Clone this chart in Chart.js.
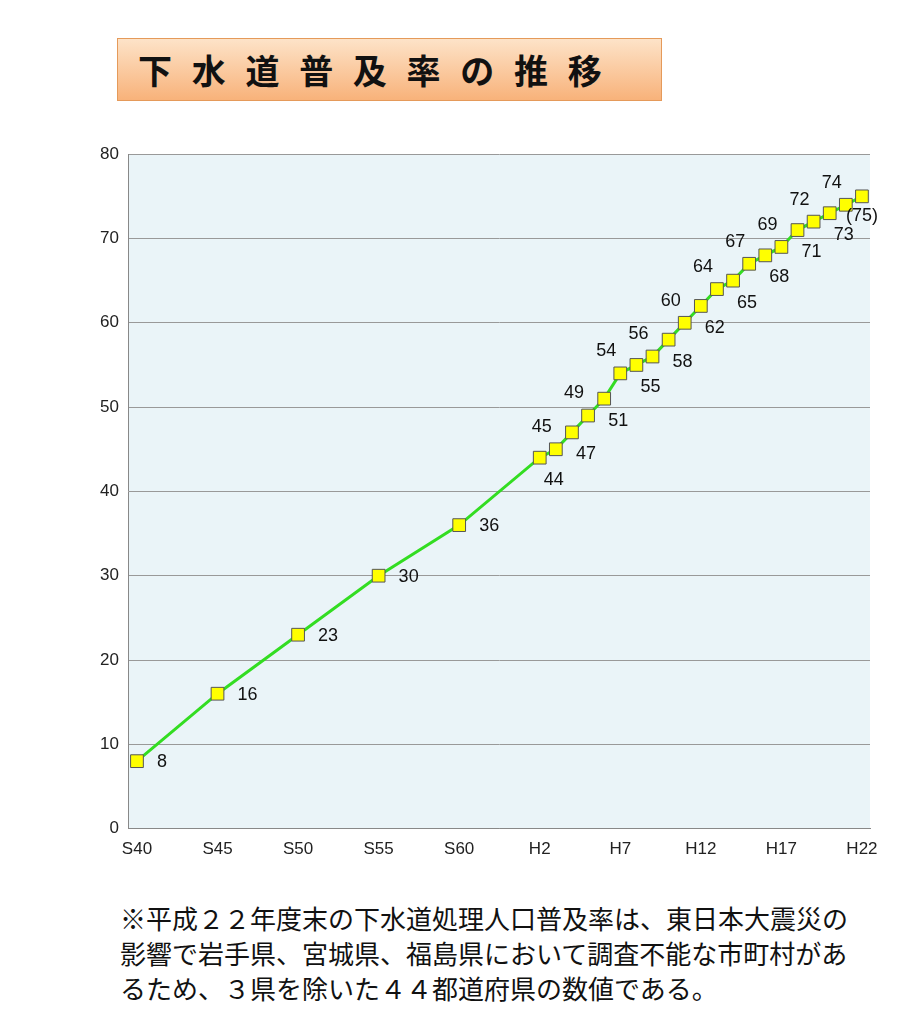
<!DOCTYPE html>
<html><head><meta charset="utf-8">
<script src="https://cdn.jsdelivr.net/npm/chart.js@4"></script>
<style>
body{margin:0;background:#fff;width:923px;height:1024px;position:relative;font-family:"Noto Sans CJK JP",sans-serif;}
#title{position:absolute;left:117px;top:38px;width:545px;height:63px;background:linear-gradient(#fde3c8,#f8b27a);border:1px solid #e59a5a;box-sizing:border-box;font-weight:bold;font-size:34px;line-height:61px;padding-left:20px;letter-spacing:6px;white-space:nowrap;color:#111;}
#wrap{position:absolute;left:90px;top:134px;width:800px;height:729px;}
#note{position:absolute;left:120px;top:900px;font-size:26px;line-height:35px;color:#111;white-space:nowrap;}
</style></head><body>
<div id="title">下 水 道 普 及 率 の 推 移</div>
<div id="wrap"><canvas id="c"></canvas></div>
<div id="note">※平成２２年度末の下水道処理人口普及率は、東日本大震災の<br>影響で岩手県、宮城県、福島県において調査不能な市町村があ<br>るため、３県を除いた４４都道府県の数値である。</div>
<script>
const years=[1965,1970,1975,1980,1985,1990,1991,1992,1993,1994,1995,1996,1997,1998,1999,2000,2001,2002,2003,2004,2005,2006,2007,2008,2009,2010];
const values=[8,16,23,30,36,44,45,47,49,51,54,55,56,58,60,62,64,65,67,68,69,71,72,73,74,75];
const labels=['8','16','23','30','36','44','45','47','49','51','54','55','56','58','60','62','64','65','67','68','69','71','72','73','74','(75)'];
const tickYears=[1965,1970,1975,1980,1985,1990,1995,2000,2005,2010];
const tickLabels=['S40','S45','S50','S55','S60','H2','H7','H12','H17','H22'];
const bgPlugin={id:'bg',beforeDraw(ch){const a=ch.chartArea,c=ch.ctx;c.save();c.fillStyle='#eaf4f8';c.fillRect(a.left,a.top,a.width,a.height);c.restore();}};
const lblPlugin={id:'lbl',afterDatasetsDraw(ch){const c=ch.ctx,m=ch.getDatasetMeta(0);c.save();c.font='18px "Liberation Sans",Arial';c.fillStyle='#111';c.textBaseline='middle';
m.data.forEach((p,i)=>{let x=p.x,y=p.y;if(i<5){c.textAlign='left';c.fillText(labels[i],x+20,y+1);}
else if(i==25){c.textAlign='left';c.fillText(labels[i],x-16,y+20);}
else{const k=i-5;c.textAlign='center';if(k%2==0)c.fillText(labels[i],x+14,y+22);else c.fillText(labels[i],x-14,y-22);}});c.restore();}};
new Chart(document.getElementById('c'),{type:'line',
data:{datasets:[{data:years.map((y,i)=>({x:y,y:values[i]})),borderColor:'#33dd22',borderWidth:3,pointStyle:'rect',pointRadius:9,pointBackgroundColor:'#ffff00',pointBorderColor:'#555',pointBorderWidth:1,tension:0}]},
options:{responsive:true,maintainAspectRatio:false,animation:false,layout:{padding:{top:6,right:20}},
plugins:{legend:{display:false},tooltip:{enabled:false}},
scales:{x:{type:'linear',min:1964.5,max:2010.5,afterBuildTicks(a){a.ticks=tickYears.map(v=>({value:v}));},
ticks:{callback:(v)=>{const i=tickYears.indexOf(v);return i<0?'':tickLabels[i];},color:'#222',font:{size:17,family:'Liberation Sans'},maxRotation:0,autoSkip:false},
grid:{display:false,drawTicks:true},border:{color:'#888'}},
y:{min:0,max:80,ticks:{stepSize:10,color:'#222',font:{size:17,family:'Liberation Sans'},padding:10},grid:{color:'#999',drawTicks:false},border:{color:'#888'}}}},
plugins:[bgPlugin,lblPlugin]});
</script></body></html>
